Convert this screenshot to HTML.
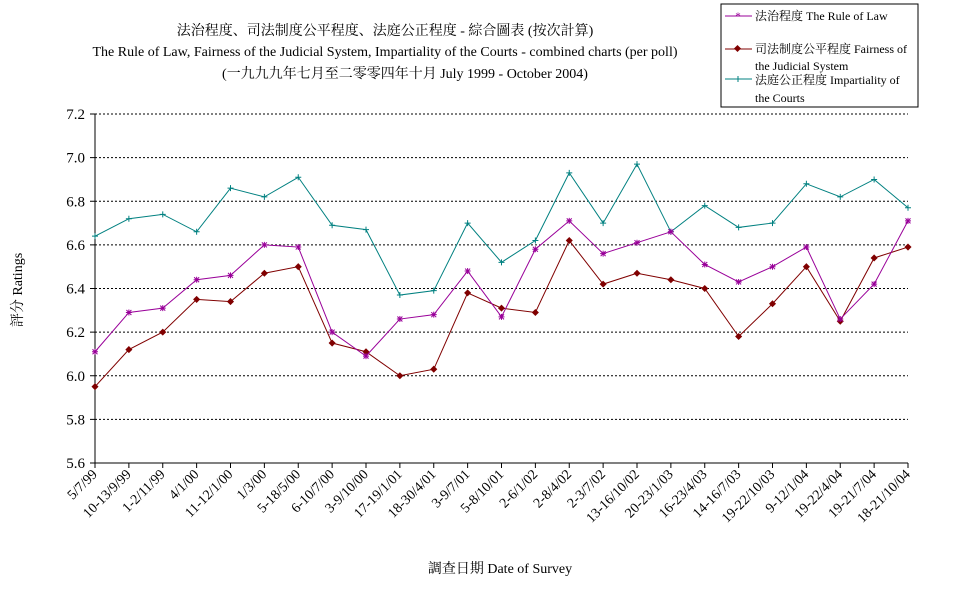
<!DOCTYPE html>
<html><head><meta charset="utf-8">
<style>
body{margin:0;background:#fff;}
svg text{font-family:"Liberation Serif","Noto Serif CJK SC","Noto Sans CJK TC",serif;}
</style></head><body>
<svg id="chart" width="977" height="600" xmlns="http://www.w3.org/2000/svg">
<g font-size="14" text-anchor="middle" fill="#000">
<text x="385" y="35">法治程度、司法制度公平程度、法庭公正程度 - 綜合圖表 (按次計算)</text>
<text x="385" y="56">The Rule of Law, Fairness of the Judicial System, Impartiality of the Courts - combined charts (per poll)</text>
<text x="405" y="78">(一九九九年七月至二零零四年十月 July 1999 - October 2004)</text>
</g>
<g id="grid"></g>
<g id="axes"></g>
<g id="series"></g>
<text font-size="14" transform="translate(22,290) rotate(-90)" text-anchor="middle">評分 Ratings</text>
<text font-size="14" x="500" y="573" text-anchor="middle">調查日期 Date of Survey</text>
<g>
<rect x="721" y="4" width="197" height="103" fill="#fff" stroke="#000"/>
<line x1="725" y1="16" x2="752" y2="16" stroke="#990099"/><text x="738" y="19.5" font-size="11" text-anchor="middle" fill="#990099">*</text>
<text x="755" y="20" font-size="12">法治程度 The Rule of Law</text>
<line x1="725" y1="49" x2="752" y2="49" stroke="#800000"/><rect x="735" y="46" width="5" height="5" fill="#800000" transform="rotate(45 737.5 48.5)"/>
<text x="755" y="53" font-size="12">司法制度公平程度 Fairness of</text>
<text x="755" y="70" font-size="12">the Judicial System</text>
<line x1="725" y1="79" x2="752" y2="79" stroke="#008080"/><line x1="738" y1="76" x2="738" y2="82" stroke="#008080"/>
<text x="755" y="84" font-size="12">法庭公正程度 Impartiality of</text>
<text x="755" y="102" font-size="12">the Courts</text>
</g>
</svg>
<script>
const categories=["5/7/99","10-13/9/99","1-2/11/99","4/1/00","11-12/1/00","1/3/00","5-18/5/00","6-10/7/00","3-9/10/00","17-19/1/01","18-30/4/01","3-9/7/01","5-8/10/01","2-6/1/02","2-8/4/02","2-3/7/02","13-16/10/02","20-23/1/03","16-23/4/03","14-16/7/03","19-22/10/03","9-12/1/04","19-22/4/04","19-21/7/04","18-21/10/04"];
const ruleOfLaw=[6.11,6.29,6.31,6.44,6.46,6.60,6.59,6.20,6.09,6.26,6.28,6.48,6.27,6.58,6.71,6.56,6.61,6.66,6.51,6.43,6.50,6.59,6.26,6.42,6.71];
const fairness=[5.95,6.12,6.20,6.35,6.34,6.47,6.50,6.15,6.11,6.00,6.03,6.38,6.31,6.29,6.62,6.42,6.47,6.44,6.40,6.18,6.33,6.50,6.25,6.54,6.59];
const impartiality=[6.64,6.72,6.74,6.66,6.86,6.82,6.91,6.69,6.67,6.37,6.39,6.70,6.52,6.62,6.93,6.70,6.97,6.66,6.78,6.68,6.70,6.88,6.82,6.90,6.77];
const yTicks=["5.6","5.8","6.0","6.2","6.4","6.6","6.8","7.0","7.2"];
const X0=95,X1=908,Y0=463,Y1=114,YMIN=5.6,YMAX=7.2;
const xs=i=>X0+(X1-X0)*i/(categories.length-1);
const ys=v=>Y0-(v-YMIN)/(YMAX-YMIN)*(Y0-Y1);
const NS="http://www.w3.org/2000/svg";
function mk(tag,attrs,parent){const e=document.createElementNS(NS,tag);for(const k in attrs)e.setAttribute(k,attrs[k]);parent.appendChild(e);return e;}
const grid=document.getElementById('grid'),axes=document.getElementById('axes'),ser=document.getElementById('series');
yTicks.forEach(t=>{const y=ys(parseFloat(t));
 if(parseFloat(t)>YMIN){const l=mk('line',{x1:X0,x2:X1,y1:y,y2:y,stroke:'#000','stroke-dasharray':'2,2'},grid);
 
 }
 mk('line',{x1:X0-5,x2:X0,y1:y,y2:y,stroke:'#000'},axes);
 const tx=mk('text',{x:X0-10,y:y+5,'text-anchor':'end','font-size':'15'},axes);tx.textContent=t;
 
 
});
mk('line',{x1:X0,x2:X0,y1:Y1,y2:Y0,stroke:'#000'},axes);
mk('line',{x1:X0,x2:X1,y1:Y0,y2:Y0,stroke:'#000'},axes);
categories.forEach((c,i)=>{const x=xs(i);
 mk('line',{x1:x,x2:x,y1:Y0,y2:Y0+5,stroke:'#000'},axes);
 const tx=mk('text',{x:x+3,y:Y0+12,'text-anchor':'end','font-size':'14',transform:`rotate(-45 ${x+3} ${Y0+12})`},axes);tx.textContent=c;
 
 
});
function series(vals,color,name,marker){
 const g=mk('g',{},ser);
 
 
 mk('polyline',{points:vals.map((v,i)=>xs(i)+','+ys(v)).join(' '),fill:'none',stroke:color,'stroke-width':'1'},g);
 vals.forEach((v,i)=>{const x=xs(i),y=ys(v);let m;
  if(marker==='diamond')m=mk('rect',{x:x-2.5,y:y-2.5,width:5,height:5,fill:color,transform:`rotate(45 ${x} ${y})`},g);
  else if(marker==='plus')m=mk('path',{d:`M${x-3} ${y}H${x+3}M${x} ${y-3}V${y+3}`,stroke:color},g);
  else m=mk('path',{d:`M${x-3} ${y}H${x+3}M${x} ${y-3}V${y+3}M${x-2.5} ${y-2.5}L${x+2.5} ${y+2.5}M${x-2.5} ${y+2.5}L${x+2.5} ${y-2.5}`,stroke:color},g);
  
  
 });
}
series(impartiality,'#008080','impartiality-series','plus');
series(fairness,'#800000','fairness-series','diamond');
series(ruleOfLaw,'#990099','rule-of-law-series','star');
</script>
</body></html>
